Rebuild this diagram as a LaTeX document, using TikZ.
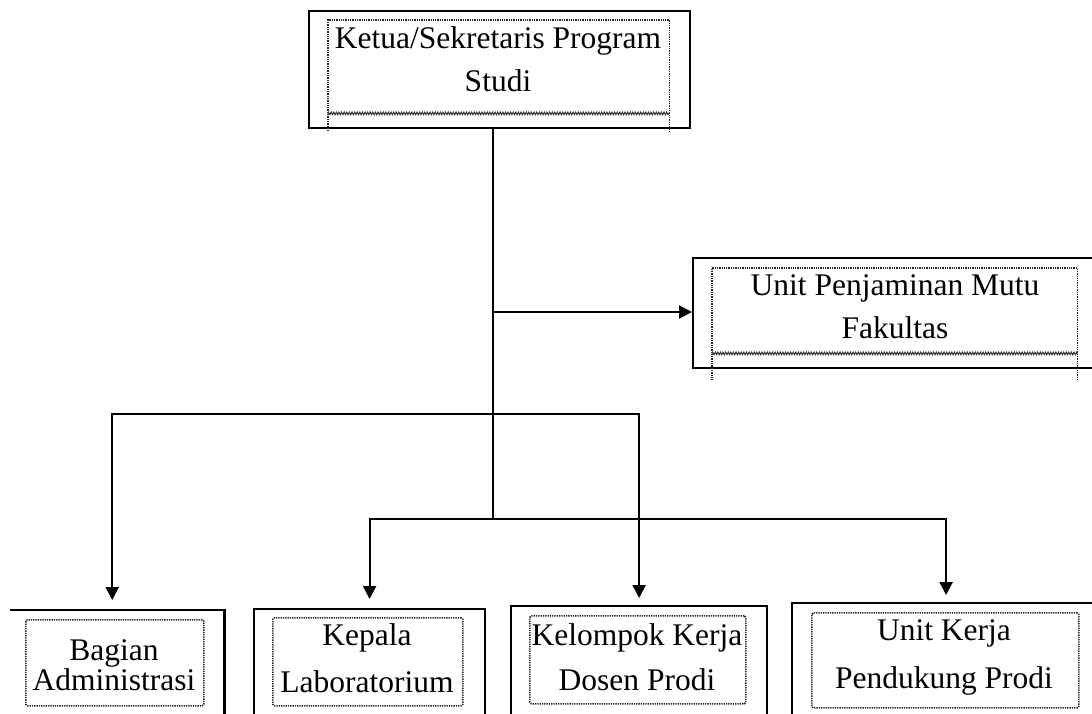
\documentclass[tikz,border=0pt]{standalone}
\usepackage{fontspec}
\setmainfont{Liberation Serif}
\usetikzlibrary{arrows.meta,decorations.pathmorphing}
\begin{document}
\begin{tikzpicture}[x=1pt,y=-1pt,
 outer/.style={draw,line width=2.2pt,inner sep=0pt,anchor=north west},
 ghost/.style={inner sep=0pt,anchor=north west},
 dots/.style={draw=black!85,line width=1.6pt,dash pattern=on 1.3pt off 1pt,inner sep=0pt,anchor=north west,rounded corners=1.5pt},
 dline/.style={draw=black!85,line width=1.6pt,dash pattern=on 1.3pt off 1pt},
 wavy/.style={draw=black!80,line width=1pt,decorate,decoration={zigzag,amplitude=1.3pt,segment length=2.6pt}},
 lbl/.style={anchor=base,inner sep=0pt,font=\fontsize{31.5}{37}\selectfont},
 conn/.style={line width=2.2pt},
 arr/.style={conn,-{Triangle[length=13pt,width=13pt]}}]
\useasboundingbox (0,0) rectangle (1092,713);
\clip (0,0) rectangle (1092,713);

% top box
\node[outer,minimum width=381pt,minimum height=117pt] (top) at (308,10) {};
\node[ghost,minimum width=341pt,minimum height=93pt] (topin) at (328,20) {};
\draw[dline] (topin.south west) ++(0,18) -- (topin.north west) -- (topin.north east) -- ++(0,111);
\draw[wavy] (topin.south west) -- (topin.south east);
\node[lbl] (t1) at (498,48) {Ketua/Sekretaris Program};
\node[lbl] (t2) at (498,91) {Studi};

% UPM box
\node[outer,minimum width=420pt,minimum height=110pt] (upm) at (692,257) {};
\node[ghost,minimum width=365pt,minimum height=85pt] (upmin) at (712,268) {};
\draw[dline] (upmin.south west) ++(0,27) -- (upmin.north west) -- (upmin.north east) -- ++(0,112);
\draw[wavy] (upmin.south west) -- (upmin.south east);
\node[lbl] (u1) at (895,295) {Unit Penjaminan Mutu};
\node[lbl] (u2) at (895,338) {Fakultas};

% bottom boxes
\node[ghost,minimum width=224pt,minimum height=120pt] (bag) at (0,610) {};
\draw[line width=2.2pt] ([xshift=10pt]bag.north west) -- (bag.north east) -- (bag.south east);
\node[dots,minimum width=178pt,minimum height=86pt] (bagin) at (25,619) {};
\node[lbl] (b1) at (114,660) {Bagian};
\node[lbl] (b2) at (114,690) {Administrasi};

\node[outer,minimum width=231pt,minimum height=120pt] (kep) at (253,608) {};
\node[dots,minimum width=190pt,minimum height=88pt] (kepin) at (272,617) {};
\node[lbl] (k1) at (367,645) {Kepala};
\node[lbl] (k2) at (367,692) {Laboratorium};

\node[outer,minimum width=256pt,minimum height=120pt] (kel) at (510,605) {};
\node[dots,minimum width=216pt,minimum height=88pt] (kelin) at (529,615) {};
\node[lbl] (l1) at (637,645) {Kelompok Kerja};
\node[lbl] (l2) at (637,690) {Dosen Prodi};

\node[outer,minimum width=308pt,minimum height=120pt] (uk) at (791,602) {};
\node[dots,minimum width=267pt,minimum height=95pt] (ukin) at (811,612) {};
\node[lbl] (p1) at (944,640) {Unit Kerja};
\node[lbl] (p2) at (944,688) {Pendukung Prodi};

% connectors
\coordinate (j1) at (493,312);
\coordinate (j2) at (493,414);
\coordinate (j3) at (493,519);
\draw[conn] (top.south -| j1) -- (j3);
\draw[arr] (j1) -- (upm.west |- j1);
\draw[arr,shorten >=10pt] (j2) -| (bag.north);
\draw[arr,shorten >=7pt] (j2) -| (kel.north);
\draw[arr,shorten >=9pt] (j3) -| (kep.north);
\draw[arr,shorten >=7pt] (j3) -| (uk.north);
\end{tikzpicture}
\end{document}
